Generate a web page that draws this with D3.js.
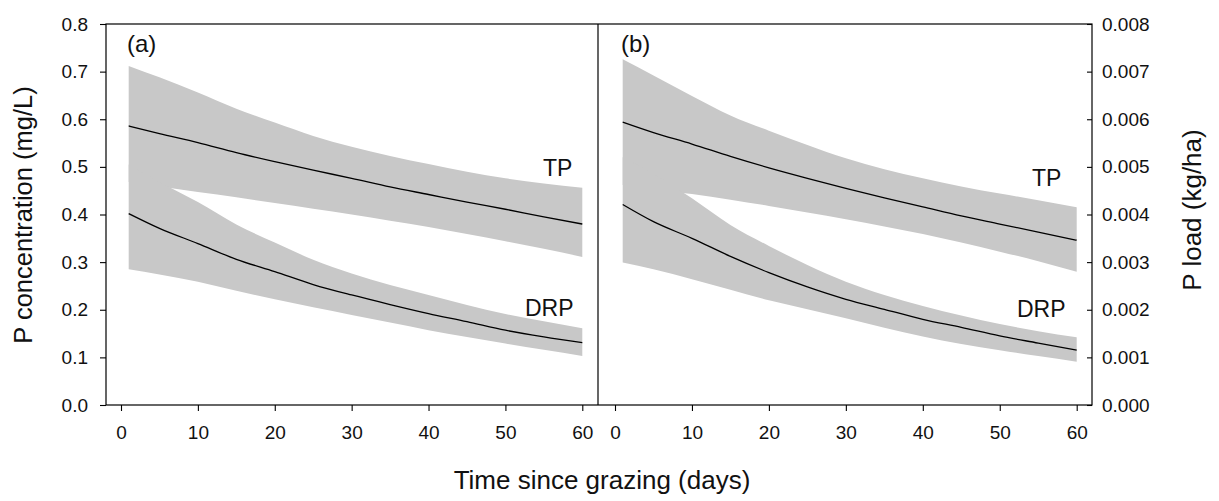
<!DOCTYPE html>
<html>
<head>
<meta charset="utf-8">
<script src="https://cdn.jsdelivr.net/npm/d3@7"></script>
<style>
  html, body { margin: 0; padding: 0; background: #fff; }
  svg { display: block; }
  text { font-family: "Liberation Sans", Arial, sans-serif; fill: #111; }
</style>
</head>
<body>
<svg id="chart" width="1219" height="501"></svg>
<script>
// ---- Data ----
const days = [1, 5, 10, 15, 20, 25, 30, 35, 40, 45, 50, 55, 60];

// Panel (a): P concentration (mg/L)
const aTPmean  = [0.586, 0.570, 0.551, 0.530, 0.511, 0.493, 0.476, 0.458, 0.442, 0.426, 0.411, 0.395, 0.380];
const aTPup    = [0.712, 0.688, 0.656, 0.622, 0.593, 0.565, 0.542, 0.523, 0.506, 0.490, 0.476, 0.465, 0.456];
const aTPlow   = [0.468, 0.459, 0.447, 0.436, 0.424, 0.412, 0.400, 0.387, 0.374, 0.359, 0.344, 0.328, 0.311];
const aDRPmean = [0.402, 0.371, 0.339, 0.306, 0.280, 0.253, 0.231, 0.211, 0.192, 0.175, 0.157, 0.143, 0.131];
const aDRPup   = [0.505, 0.468, 0.426, 0.379, 0.341, 0.305, 0.276, 0.252, 0.231, 0.210, 0.191, 0.176, 0.161];
const aDRPlow  = [0.285, 0.274, 0.259, 0.240, 0.222, 0.205, 0.189, 0.173, 0.157, 0.143, 0.129, 0.116, 0.103];

// Panel (b): P load (kg/ha)
const bTPmean  = [0.00594, 0.00572, 0.00548, 0.00522, 0.00498, 0.00476, 0.00455, 0.00435, 0.00416, 0.00397, 0.00380, 0.00363, 0.00346];
const bTPup    = [0.00726, 0.00692, 0.00649, 0.00608, 0.00576, 0.00546, 0.00518, 0.00495, 0.00476, 0.00459, 0.00444, 0.00430, 0.00415];
const bTPlow   = [0.00462, 0.00452, 0.00443, 0.00431, 0.00418, 0.00404, 0.00390, 0.00375, 0.00359, 0.00341, 0.00322, 0.00302, 0.00280];
const bDRPmean = [0.00421, 0.00385, 0.00350, 0.00312, 0.00278, 0.00248, 0.00222, 0.00201, 0.00180, 0.00163, 0.00145, 0.00130, 0.00115];
const bDRPup   = [0.00520, 0.00485, 0.00434, 0.00378, 0.00334, 0.00294, 0.00259, 0.00231, 0.00208, 0.00188, 0.00170, 0.00155, 0.00142];
const bDRPlow  = [0.00299, 0.00285, 0.00264, 0.00242, 0.00220, 0.00201, 0.00182, 0.00162, 0.00144, 0.00128, 0.00115, 0.00103, 0.00091];

const xTicks = [0, 10, 20, 30, 40, 50, 60];
const yLeftTicks = [0, 0.1, 0.2, 0.3, 0.4, 0.5, 0.6, 0.7, 0.8];
const yRightTicks = [0, 0.001, 0.002, 0.003, 0.004, 0.005, 0.006, 0.007, 0.008];

const xTitle = "Time since grazing (days)";
const yLeftTitle = "P concentration (mg/L)";
const yRightTitle = "P load (kg/ha)";

// ---- Layout ----
const L = 106, R = 1092, T = 24, B = 405, MID = 598;
const GRAY = "#c8c8c8";

const svg = d3.select("#chart");

const yL = d3.scaleLinear().domain([0, 0.8]).range([B, T]);
const yR = d3.scaleLinear().domain([0, 0.008]).range([B, T]);
const xA = d3.scaleLinear().domain([0, 60]).range([121, 582.3]);
const xB = d3.scaleLinear().domain([0, 60]).range([615, 1076.7]);

function panel(x, y, tpM, tpU, tpL, drM, drU, drL) {
  const g = svg.append("g");
  const area = (lo, hi) => d3.area()
    .x((d, i) => x(days[i]))
    .y0((d, i) => y(lo[i]))
    .y1((d, i) => y(hi[i]))
    .curve(d3.curveMonotoneX)(days);
  const line = (m) => d3.line()
    .x((d, i) => x(days[i]))
    .y((d, i) => y(m[i]))
    .curve(d3.curveMonotoneX)(days);
  g.append("path").attr("d", area(tpL, tpU)).attr("fill", GRAY);
  g.append("path").attr("d", area(drL, drU)).attr("fill", GRAY);
  g.append("path").attr("d", line(tpM)).attr("fill", "none").attr("stroke", "#000").attr("stroke-width", 1.3);
  g.append("path").attr("d", line(drM)).attr("fill", "none").attr("stroke", "#000").attr("stroke-width", 1.3);
}

panel(xA, yL, aTPmean, aTPup, aTPlow, aDRPmean, aDRPup, aDRPlow);
panel(xB, yR, bTPmean, bTPup, bTPlow, bDRPmean, bDRPup, bDRPlow);

// Frame
svg.append("rect").attr("x", L).attr("y", T).attr("width", R - L).attr("height", B - T)
  .attr("fill", "none").attr("stroke", "#000").attr("stroke-width", 1.2);
svg.append("line").attr("x1", MID).attr("x2", MID).attr("y1", T).attr("y2", B)
  .attr("stroke", "#000").attr("stroke-width", 1.2);

// Axes
function styleAxis(sel) {
  sel.select(".domain").remove();
  sel.selectAll(".tick line").attr("stroke", "#000").attr("stroke-width", 1.1);
  sel.selectAll(".tick text").style("font-size", "19px").attr("fill", "#1a1a1a")
     .style("font-family", '"Liberation Sans", Arial, sans-serif');
}
svg.append("g").attr("transform", `translate(${L},0)`)
  .call(d3.axisLeft(yL).tickValues(yLeftTicks).tickFormat(d3.format(".1f")).tickSize(6).tickPadding(12))
  .call(styleAxis);
svg.append("g").attr("transform", `translate(${R},0)`)
  .call(d3.axisRight(yR).tickValues(yRightTicks).tickFormat(d3.format(".3f")).tickSize(-5).tickPadding(10))
  .call(styleAxis);
svg.append("g").attr("transform", `translate(0,${B})`)
  .call(d3.axisBottom(xA).tickValues(xTicks).tickFormat(d3.format("d")).tickSize(6).tickPadding(15))
  .call(styleAxis);
svg.append("g").attr("transform", `translate(0,${B})`)
  .call(d3.axisBottom(xB).tickValues(xTicks).tickFormat(d3.format("d")).tickSize(6).tickPadding(15))
  .call(styleAxis);

// Titles
svg.append("text").attr("x", 602).attr("y", 489).attr("text-anchor", "middle")
  .style("font-size", "26px").text(xTitle);
svg.append("text").attr("transform", "translate(32,215) rotate(-90)").attr("text-anchor", "middle")
  .style("font-size", "25.5px").text(yLeftTitle);
svg.append("text").attr("transform", "translate(1201,210) rotate(-90)").attr("text-anchor", "middle")
  .style("font-size", "26px").text(yRightTitle);

// Panel labels
svg.append("text").attr("x", 127).attr("y", 52).style("font-size", "24px").text("(a)");
svg.append("text").attr("x", 621).attr("y", 52).style("font-size", "24px").text("(b)");

// Series labels
svg.append("text").attr("x", 543).attr("y", 176).style("font-size", "23px").text("TP");
svg.append("text").attr("x", 525).attr("y", 316).style("font-size", "23px").text("DRP");
svg.append("text").attr("x", 1032).attr("y", 186).style("font-size", "23px").text("TP");
svg.append("text").attr("x", 1017).attr("y", 317).style("font-size", "23px").text("DRP");
</script>
</body>
</html>
